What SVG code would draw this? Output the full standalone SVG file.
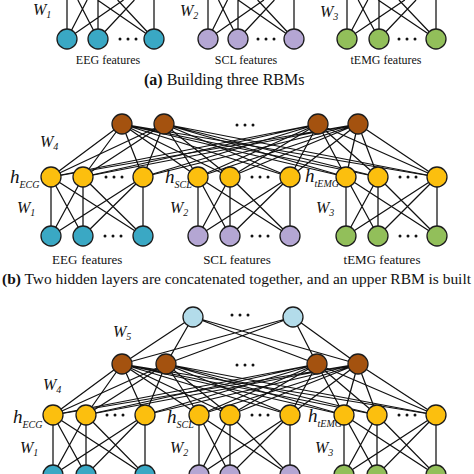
<svg xmlns="http://www.w3.org/2000/svg" width="474" height="474" viewBox="0 0 474 474">
<style>
.e{fill:none;stroke:#111;stroke-width:1.25}
circle.n{stroke:#1c1c1c;stroke-width:1.3}
.eeg{fill:#3aa8c4}
.scl{fill:#b4a6d3}
.emg{fill:#92bf5a}
.hid{fill:#fcbf0e}
.top{fill:#a4520f}
.sky{fill:#b3dcea}
.d{fill:#111}
text{font-family:"Liberation Serif","Times New Roman",serif;fill:#111}
.w{font-size:16px;font-style:italic}
.h{font-size:19px;font-style:italic}
.s{font-size:10px}
.f{font-size:12px}
.f2{font-size:13px}
.cap{font-size:16px}
.capb{font-size:15px}
</style>
<rect width="474" height="474" fill="#fff"/>
<g id="connectors" class="e">
<path d="M67 0L67 39M77.85 0L98 39M97.45 0L154 39M87.15 0L67 39M98 0L98 39M117.6 0L154 39M123.55 0L67 39M134.4 0L98 39M154 0L154 39"/>
<path d="M208 0L208 39M218.5 0L238 39M238.1 0L294 39M227.5 0L208 39M238 0L238 39M257.6 0L294 39M263.9 0L208 39M274.4 0L238 39M294 0L294 39"/>
<path d="M347 0L347 39M358.2 0L379 39M378.15 0L436 39M367.8 0L347 39M379 0L379 39M398.95 0L436 39M404.85 0L347 39M416.05 0L379 39M436 0L436 39"/>
<path d="M51 177L51 236M51 177L83 236M51 177L143 236M83 177L51 236M83 177L83 236M83 177L143 236M143 177L51 236M143 177L83 236M143 177L143 236"/>
<path d="M198 177L198 236M198 177L230 236M198 177L290 236M230 177L198 236M230 177L230 236M230 177L290 236M290 177L198 236M290 177L230 236M290 177L290 236"/>
<path d="M346 177L346 236M346 177L378 236M346 177L437 236M378 177L346 236M378 177L378 236M378 177L437 236M437 177L346 236M437 177L378 236M437 177L437 236"/>
<path d="M122 124L51 177M122 124L83 177M122 124L143 177M122 124L198 177M122 124L230 177M122 124L290 177M122 124L346 177M122 124L378 177M122 124L437 177"/>
<path d="M164 124L51 177M164 124L83 177M164 124L143 177M164 124L198 177M164 124L230 177M164 124L290 177M164 124L346 177M164 124L378 177M164 124L437 177"/>
<path d="M318 124L51 177M318 124L83 177M318 124L143 177M318 124L198 177M318 124L230 177M318 124L290 177M318 124L346 177M318 124L378 177M318 124L437 177"/>
<path d="M358 124L51 177M358 124L83 177M358 124L143 177M358 124L198 177M358 124L230 177M358 124L290 177M358 124L346 177M358 124L378 177M358 124L437 177"/>
<path d="M193 317L122 364M193 317L166 364M193 317L317 364M193 317L358 364M293 317L122 364M293 317L166 364M293 317L317 364M293 317L358 364"/>
<path d="M122 364L53 415M122 364L86 415M122 364L145 415M122 364L199 415M122 364L230 415M122 364L290 415M122 364L344 415M122 364L377 415M122 364L436 415"/>
<path d="M166 364L53 415M166 364L86 415M166 364L145 415M166 364L199 415M166 364L230 415M166 364L290 415M166 364L344 415M166 364L377 415M166 364L436 415"/>
<path d="M317 364L53 415M317 364L86 415M317 364L145 415M317 364L199 415M317 364L230 415M317 364L290 415M317 364L344 415M317 364L377 415M317 364L436 415"/>
<path d="M358 364L53 415M358 364L86 415M358 364L145 415M358 364L199 415M358 364L230 415M358 364L290 415M358 364L344 415M358 364L377 415M358 364L436 415"/>
<path d="M53 415L53 475M53 415L86 475M53 415L145 475M86 415L53 475M86 415L86 475M86 415L145 475M145 415L53 475M145 415L86 475M145 415L145 475"/>
<path d="M199 415L199 475M199 415L230 475M199 415L290 475M230 415L199 475M230 415L230 475M230 415L290 475M290 415L199 475M290 415L230 475M290 415L290 475"/>
<path d="M344 415L344 475M344 415L377 475M344 415L436 475M377 415L344 475M377 415L377 475M377 415L436 475M436 415L344 475M436 415L377 475M436 415L436 475"/>
</g>
<g id="labels">
<text class="w" x="33" y="15">W<tspan class="s" dy="3">1</tspan></text>
<text class="w" x="180" y="16">W<tspan class="s" dy="3">2</tspan></text>
<text class="w" x="320" y="17">W<tspan class="s" dy="3">3</tspan></text>
<text class="f" x="108" y="64" text-anchor="middle">EEG features</text>
<text class="f" x="246" y="64" text-anchor="middle">SCL features</text>
<text class="f" x="386" y="64" text-anchor="middle">tEMG features</text>
<text class="cap" x="144" y="85"><tspan font-weight="bold">(a)</tspan> Building three RBMs</text>
<text class="w" x="40" y="147">W<tspan class="s" dy="3">4</tspan></text>
<text class="h" x="10" y="183">h<tspan class="s" dy="5">ECG</tspan></text>
<text class="h" x="165" y="183">h<tspan class="s" dy="5">SCL</tspan></text>
<text class="h" x="305" y="182">h<tspan class="s" dy="5">tEMG</tspan></text>
<text class="w" x="17" y="213">W<tspan class="s" dy="3">1</tspan></text>
<text class="w" x="170" y="213">W<tspan class="s" dy="3">2</tspan></text>
<text class="w" x="316" y="213">W<tspan class="s" dy="3">3</tspan></text>
<text class="f2" x="52" y="264">EEG<tspan dx="4">features</tspan></text>
<text class="f2" x="237" y="264" text-anchor="middle">SCL features</text>
<text class="f2" x="382" y="264" text-anchor="middle">tEMG features</text>
<text class="capb" x="2" y="284" textLength="469" lengthAdjust="spacingAndGlyphs"><tspan font-weight="bold">(b)</tspan> Two hidden layers are concatenated together, and an upper RBM is built</text>
<text class="w" x="113" y="337">W<tspan class="s" dy="3">5</tspan></text>
<text class="w" x="43" y="390">W<tspan class="s" dy="3">4</tspan></text>
<text class="h" x="13" y="423">h<tspan class="s" dy="5">ECG</tspan></text>
<text class="h" x="167" y="423">h<tspan class="s" dy="5">SCL</tspan></text>
<text class="h" x="308" y="422">h<tspan class="s" dy="5">tEMG</tspan></text>
<text class="w" x="20" y="453">W<tspan class="s" dy="3">1</tspan></text>
<text class="w" x="170" y="453">W<tspan class="s" dy="3">2</tspan></text>
<text class="w" x="315" y="453">W<tspan class="s" dy="3">3</tspan></text>
</g>
<g id="dots" class="d">
<circle cx="120" cy="39" r="1.5"/><circle cx="128" cy="39" r="1.5"/><circle cx="136" cy="39" r="1.5"/>
<circle cx="258" cy="39" r="1.5"/><circle cx="266" cy="39" r="1.5"/><circle cx="274" cy="39" r="1.5"/>
<circle cx="399" cy="39" r="1.5"/><circle cx="407" cy="39" r="1.5"/><circle cx="415" cy="39" r="1.5"/>
<circle cx="237" cy="125" r="1.5"/><circle cx="245" cy="125" r="1.5"/><circle cx="253" cy="125" r="1.5"/>
<circle cx="106" cy="177" r="1.5"/><circle cx="114" cy="177" r="1.5"/><circle cx="122" cy="177" r="1.5"/>
<circle cx="252" cy="177" r="1.5"/><circle cx="260" cy="177" r="1.5"/><circle cx="268" cy="177" r="1.5"/>
<circle cx="400" cy="177" r="1.5"/><circle cx="408" cy="177" r="1.5"/><circle cx="416" cy="177" r="1.5"/>
<circle cx="105" cy="236" r="1.5"/><circle cx="113" cy="236" r="1.5"/><circle cx="121" cy="236" r="1.5"/>
<circle cx="252" cy="236" r="1.5"/><circle cx="260" cy="236" r="1.5"/><circle cx="268" cy="236" r="1.5"/>
<circle cx="400" cy="236" r="1.5"/><circle cx="408" cy="236" r="1.5"/><circle cx="416" cy="236" r="1.5"/>
<circle cx="232" cy="315" r="1.5"/><circle cx="240" cy="315" r="1.5"/><circle cx="248" cy="315" r="1.5"/>
<circle cx="237" cy="365" r="1.5"/><circle cx="245" cy="365" r="1.5"/><circle cx="253" cy="365" r="1.5"/>
<circle cx="107" cy="415" r="1.5"/><circle cx="115" cy="415" r="1.5"/><circle cx="123" cy="415" r="1.5"/>
<circle cx="252" cy="415" r="1.5"/><circle cx="260" cy="415" r="1.5"/><circle cx="268" cy="415" r="1.5"/>
<circle cx="399" cy="415" r="1.5"/><circle cx="407" cy="415" r="1.5"/><circle cx="415" cy="415" r="1.5"/>
</g>
<g id="a-eeg-1"><circle class="n eeg" cx="67" cy="39" r="10"/></g>
<g id="a-eeg-2"><circle class="n eeg" cx="98" cy="39" r="10"/></g>
<g id="a-eeg-3"><circle class="n eeg" cx="154" cy="39" r="10"/></g>
<g id="a-scl-1"><circle class="n scl" cx="208" cy="39" r="10"/></g>
<g id="a-scl-2"><circle class="n scl" cx="238" cy="39" r="10"/></g>
<g id="a-scl-3"><circle class="n scl" cx="294" cy="39" r="10"/></g>
<g id="a-emg-1"><circle class="n emg" cx="347" cy="39" r="10"/></g>
<g id="a-emg-2"><circle class="n emg" cx="379" cy="39" r="10"/></g>
<g id="a-emg-3"><circle class="n emg" cx="436" cy="39" r="10"/></g>
<g id="b-top-1"><circle class="n top" cx="122" cy="124" r="10"/></g>
<g id="b-top-2"><circle class="n top" cx="164" cy="124" r="10"/></g>
<g id="b-top-3"><circle class="n top" cx="318" cy="124" r="10"/></g>
<g id="b-top-4"><circle class="n top" cx="358" cy="124" r="10"/></g>
<g id="b-h-1"><circle class="n hid" cx="51" cy="177" r="10"/></g>
<g id="b-h-2"><circle class="n hid" cx="83" cy="177" r="10"/></g>
<g id="b-h-3"><circle class="n hid" cx="143" cy="177" r="10"/></g>
<g id="b-h-4"><circle class="n hid" cx="198" cy="177" r="10"/></g>
<g id="b-h-5"><circle class="n hid" cx="230" cy="177" r="10"/></g>
<g id="b-h-6"><circle class="n hid" cx="290" cy="177" r="10"/></g>
<g id="b-h-7"><circle class="n hid" cx="346" cy="177" r="10"/></g>
<g id="b-h-8"><circle class="n hid" cx="378" cy="177" r="10"/></g>
<g id="b-h-9"><circle class="n hid" cx="437" cy="177" r="10"/></g>
<g id="b-eeg-1"><circle class="n eeg" cx="51" cy="236" r="10"/></g>
<g id="b-eeg-2"><circle class="n eeg" cx="83" cy="236" r="10"/></g>
<g id="b-eeg-3"><circle class="n eeg" cx="143" cy="236" r="10"/></g>
<g id="b-scl-1"><circle class="n scl" cx="198" cy="236" r="10"/></g>
<g id="b-scl-2"><circle class="n scl" cx="230" cy="236" r="10"/></g>
<g id="b-scl-3"><circle class="n scl" cx="290" cy="236" r="10"/></g>
<g id="b-emg-1"><circle class="n emg" cx="346" cy="236" r="10"/></g>
<g id="b-emg-2"><circle class="n emg" cx="378" cy="236" r="10"/></g>
<g id="b-emg-3"><circle class="n emg" cx="437" cy="236" r="10"/></g>
<g id="c-sky-1"><circle class="n sky" cx="193" cy="317" r="10"/></g>
<g id="c-sky-2"><circle class="n sky" cx="293" cy="317" r="10"/></g>
<g id="c-top-1"><circle class="n top" cx="122" cy="364" r="10"/></g>
<g id="c-top-2"><circle class="n top" cx="166" cy="364" r="10"/></g>
<g id="c-top-3"><circle class="n top" cx="317" cy="364" r="10"/></g>
<g id="c-top-4"><circle class="n top" cx="358" cy="364" r="10"/></g>
<g id="c-h-1"><circle class="n hid" cx="53" cy="415" r="10"/></g>
<g id="c-h-2"><circle class="n hid" cx="86" cy="415" r="10"/></g>
<g id="c-h-3"><circle class="n hid" cx="145" cy="415" r="10"/></g>
<g id="c-h-4"><circle class="n hid" cx="199" cy="415" r="10"/></g>
<g id="c-h-5"><circle class="n hid" cx="230" cy="415" r="10"/></g>
<g id="c-h-6"><circle class="n hid" cx="290" cy="415" r="10"/></g>
<g id="c-h-7"><circle class="n hid" cx="344" cy="415" r="10"/></g>
<g id="c-h-8"><circle class="n hid" cx="377" cy="415" r="10"/></g>
<g id="c-h-9"><circle class="n hid" cx="436" cy="415" r="10"/></g>
<g id="c-eeg-1"><circle class="n eeg" cx="53" cy="475" r="10"/></g>
<g id="c-eeg-2"><circle class="n eeg" cx="86" cy="475" r="10"/></g>
<g id="c-eeg-3"><circle class="n eeg" cx="145" cy="475" r="10"/></g>
<g id="c-scl-1"><circle class="n scl" cx="199" cy="475" r="10"/></g>
<g id="c-scl-2"><circle class="n scl" cx="230" cy="475" r="10"/></g>
<g id="c-scl-3"><circle class="n scl" cx="290" cy="475" r="10"/></g>
<g id="c-emg-1"><circle class="n emg" cx="344" cy="475" r="10"/></g>
<g id="c-emg-2"><circle class="n emg" cx="377" cy="475" r="10"/></g>
<g id="c-emg-3"><circle class="n emg" cx="436" cy="475" r="10"/></g>
</svg>
